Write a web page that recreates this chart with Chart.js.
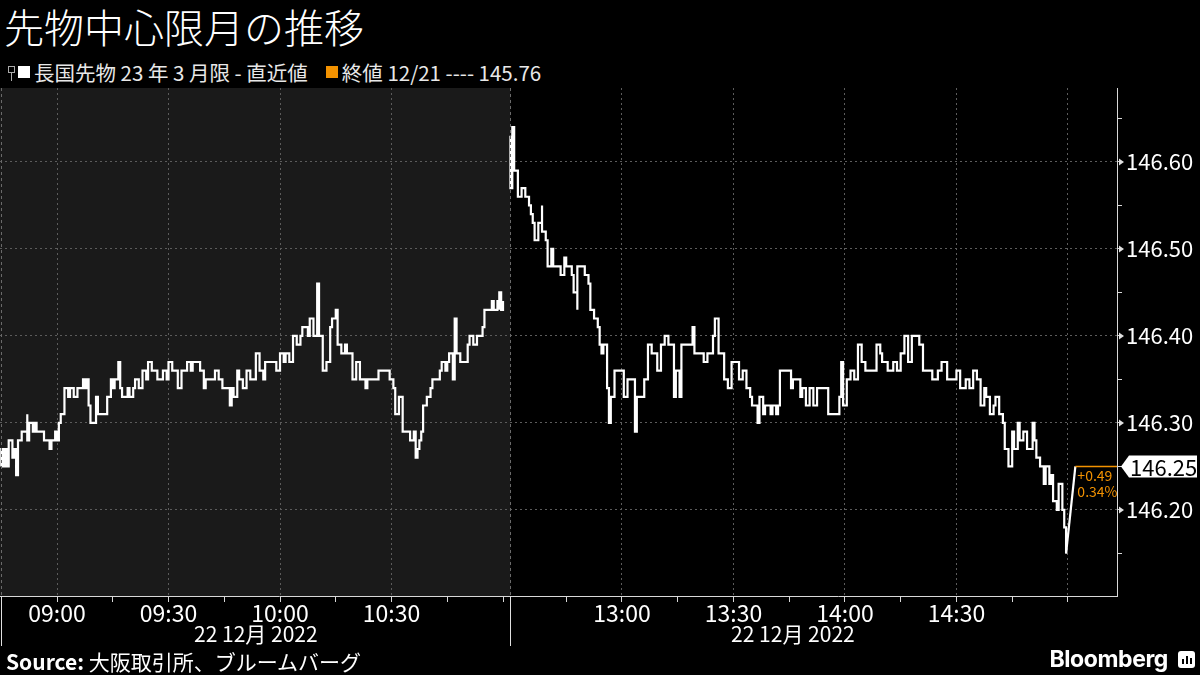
<!DOCTYPE html>
<html>
<head>
<meta charset="utf-8">
<script src="https://cdn.jsdelivr.net/npm/chart.js@4.4.0/dist/chart.umd.min.js"></script>
<style>
  html, body { margin: 0; padding: 0; background: #000; width: 1200px; height: 675px; overflow: hidden; }
  body { font-family: "Noto Sans CJK JP", sans-serif; color: #fff; position: relative; }
  #title { position: absolute; left: 4px; top: 0px; font-size: 40px; line-height: 52px; font-weight: 300; }
  #legend { position: absolute; left: 8px; top: 59px; height: 26px; font-size: 20.5px; color: #e8e8e8; display: flex; align-items: center; white-space: pre; }
  #legend .pin { width: 5px; height: 5px; border: 1px solid #aaa; position: relative; margin-right: 3px; top: -3px; }
  #legend .pin:after { content: ""; position: absolute; left: 2px; top: 6px; width: 1px; height: 8px; background: #aaa; }
  #legend .sq { width: 12px; height: 12px; margin-right: 4px; }
  #c { position: absolute; left: 0; top: 0; }
  #source { position: absolute; left: 6px; top: 647px; font-size: 21px; line-height: 28px; color: #fff; }
  #source b { font-weight: 700; }
  #bbg { position: absolute; right: 5px; top: 645px; display: flex; align-items: center; font-family: Inter, sans-serif; font-weight: 700; font-size: 23px; letter-spacing: -0.4px; color: #fff; }
  #bbg .ico { width: 17px; height: 17px; background: #fff; border-radius: 3px; margin-left: 10px; position: relative; }
  #bbg .ico i { position: absolute; bottom: 4px; width: 2px; background: #000; }
</style>
</head>
<body>
<div id="title">先物中心限月の推移</div>
<div id="legend"><span class="pin"></span><span class="sq" style="background:#fff"></span><span id="lg1"></span><span class="sq" style="background:#f39200;margin-left:18px"></span><span id="lg2"></span></div>
<canvas id="c" width="1200" height="650"></canvas>
<div id="source"><b>Source:</b> 大阪取引所、ブルームバーグ</div>
<div id="bbg">Bloomberg<span class="ico"><i style="left:4px;height:5px"></i><i style="left:8px;height:8px"></i><i style="left:12px;height:6px"></i></span></div>
<script>
// 長国先物 23年3月限, 22 Dec 2022, day session ticks (HH:MM:SS)
var seriesName = "長国先物 23 年 3 月限 - 直近値";
var prevCloseLabel = "終値 12/21";
var prevClose = 145.76;
var sessions = [["08:45", "11:02"], ["12:30", "15:02"]];
var dateLabel = "22 12月 2022";

var amTimes = [
  "08:45:00","08:45:00","08:45:30","08:46:00","08:46:30","08:47:00","08:47:30","08:48:00","08:48:30","08:49:00",
  "08:49:30","08:50:00","08:50:30","08:51:30","08:52:00","08:52:00","08:52:30","08:53:30","08:54:00","08:54:30",
  "08:56:00","08:56:30","08:57:30","08:58:00","08:58:30","08:59:30","09:00:00","09:00:30","09:01:00","09:02:00",
  "09:02:00","09:03:00","09:03:30","09:04:30","09:05:30","09:07:00","09:07:00","09:07:30","09:08:00","09:08:30",
  "09:09:00","09:09:30","09:10:30","09:11:00","09:12:30","09:13:30","09:14:30","09:15:00","09:15:30","09:16:30",
  "09:17:00","09:17:30","09:19:00","09:19:30","09:20:30","09:21:00","09:22:00","09:23:00","09:24:00","09:24:30",
  "09:25:30","09:27:00","09:28:30","09:29:30","09:30:00","09:31:00","09:32:30","09:33:30","09:34:30","09:35:00",
  "09:36:00","09:36:30","09:38:30","09:39:30","09:40:00","09:42:00","09:42:30","09:43:30","09:44:30","09:45:30",
  "09:46:30","09:47:00","09:47:30","09:48:30","09:49:00","09:50:00","09:51:00","09:52:00","09:53:30","09:54:30",
  "09:55:30","09:56:00","09:58:30","09:59:00","10:00:00","10:01:00","10:01:30","10:02:30","10:03:30","10:04:30",
  "10:05:30","10:06:00","10:07:30","10:08:00","10:09:00","10:10:00","10:10:00","10:10:30","10:11:00","10:11:30",
  "10:12:00","10:12:30","10:13:30","10:14:00","10:15:00","10:15:00","10:15:30","10:16:30","10:17:30","10:18:00",
  "10:19:00","10:19:30","10:20:30","10:21:00","10:21:30","10:23:00","10:23:00","10:23:30","10:25:30","10:26:30",
  "10:28:30","10:29:30","10:30:30","10:31:00","10:32:00","10:33:00","10:33:00","10:34:00","10:35:00","10:36:00",
  "10:36:30","10:37:00","10:37:30","10:38:00","10:38:30","10:39:30","10:40:30","10:41:00","10:42:00","10:43:00",
  "10:43:30","10:44:30","10:45:00","10:45:30","10:46:30","10:47:00","10:47:30","10:48:30","10:49:00","10:50:30",
  "10:51:00","10:52:00","10:53:00","10:54:30","10:55:00","10:56:30","10:57:00","10:57:30","10:58:30","10:59:00",
  "10:59:00","10:59:30","11:00:00"
];
var amPrices = [
  146.25,146.27,146.25,146.27,146.25,146.28,146.28,146.26,146.27,146.24,
  146.28,146.28,146.29,146.29,146.31,146.28,146.30,146.29,146.30,146.29,
  146.29,146.28,146.28,146.27,146.28,146.29,146.28,146.30,146.31,146.32,
  146.34,146.33,146.34,146.33,146.34,146.34,146.35,146.34,146.35,146.32,
  146.30,146.30,146.33,146.31,146.31,146.33,146.35,146.34,146.35,146.37,
  146.34,146.33,146.34,146.33,146.34,146.35,146.34,146.36,146.35,146.37,
  146.36,146.35,146.36,146.35,146.37,146.36,146.34,146.36,146.36,146.37,
  146.36,146.37,146.36,146.34,146.35,146.35,146.36,146.35,146.34,146.34,
  146.32,146.34,146.33,146.36,146.35,146.34,146.36,146.35,146.38,146.36,
  146.35,146.37,146.37,146.36,146.38,146.37,146.38,146.37,146.40,146.39,
  146.40,146.41,146.40,146.42,146.40,146.40,146.46,146.40,146.40,146.36,
  146.36,146.37,146.41,146.42,146.42,146.43,146.39,146.38,146.39,146.38,
  146.38,146.35,146.37,146.37,146.35,146.35,146.34,146.35,146.35,146.36,
  146.36,146.35,146.34,146.31,146.33,146.31,146.29,146.29,146.28,146.29,
  146.26,146.27,146.28,146.29,146.32,146.33,146.34,146.35,146.35,146.36,
  146.37,146.36,146.37,146.38,146.35,146.42,146.38,146.37,146.37,146.39,
  146.40,146.39,146.40,146.41,146.43,146.43,146.44,146.43,146.44,146.43,
  146.45,146.43,146.44
];
var pmTimes = [
  "12:30:00","12:30:00","12:30:30","12:30:30","12:31:00","12:31:30","12:32:00","12:33:00","12:34:00","12:35:00",
  "12:35:30","12:36:00","12:36:30","12:37:30","12:38:30","12:38:30","12:39:30","12:40:00","12:40:30","12:41:00",
  "12:41:30","12:43:00","12:43:30","12:44:30","12:45:00","12:46:30","12:47:00","12:48:00","12:48:00","12:49:00",
  "12:50:00","12:51:00","12:51:30","12:52:30","12:53:30","12:54:00","12:54:30","12:55:00","12:55:30","12:56:00",
  "12:56:30","12:57:00","12:58:00","13:00:00","13:00:30","13:01:30","13:01:30","13:03:00","13:03:30","13:04:00",
  "13:05:00","13:06:00","13:07:00","13:08:00","13:09:30","13:10:30","13:11:30","13:12:30","13:13:30","13:14:00",
  "13:14:30","13:15:30","13:16:00","13:18:30","13:19:00","13:19:30","13:21:00","13:22:00","13:23:00","13:23:30",
  "13:24:30","13:25:00","13:26:00","13:27:00","13:27:30","13:28:30","13:29:30","13:31:00","13:31:30","13:32:30",
  "13:33:30","13:34:30","13:35:00","13:36:30","13:37:00","13:38:00","13:38:30","13:40:00","13:40:30","13:41:30",
  "13:42:00","13:42:30","13:45:00","13:45:30","13:46:00","13:47:00","13:48:00","13:48:30","13:49:30","13:50:30",
  "13:51:30","13:52:30","13:54:30","13:55:30","13:57:30","13:58:30","13:59:00","13:59:30","14:00:30","14:01:30",
  "14:02:30","14:03:30","14:04:30","14:05:30","14:07:30","14:08:30","14:09:30","14:10:00","14:11:30","14:13:00",
  "14:14:00","14:15:00","14:16:00","14:17:00","14:18:00","14:19:30","14:20:00","14:21:00","14:23:00","14:23:30",
  "14:25:00","14:26:00","14:27:30","14:29:00","14:30:00","14:31:00","14:32:30","14:33:30","14:34:30","14:35:30",
  "14:36:30","14:37:30","14:38:00","14:39:00","14:40:00","14:40:30","14:41:30","14:42:30","14:43:00","14:44:00",
  "14:44:30","14:45:00","14:45:30","14:46:30","14:47:00","14:48:00","14:49:00","14:50:30","14:51:00","14:51:30",
  "14:52:30","14:53:30","14:54:00","14:55:00","14:55:30","14:56:00","14:57:00","14:57:30","14:58:30","14:59:00",
  "14:59:30","15:02:00"
];
var pmPrices = [
  146.63,146.57,146.62,146.64,146.59,146.59,146.56,146.57,146.56,146.55,
  146.54,146.53,146.51,146.53,146.55,146.52,146.51,146.48,146.48,146.50,
  146.48,146.48,146.47,146.49,146.48,146.47,146.45,146.43,146.48,146.48,
  146.47,146.46,146.43,146.42,146.41,146.39,146.38,146.39,146.39,146.34,
  146.30,146.33,146.36,146.36,146.33,146.33,146.35,146.35,146.29,146.33,
  146.33,146.35,146.39,146.38,146.36,146.39,146.40,146.39,146.39,146.33,
  146.36,146.33,146.39,146.39,146.41,146.38,146.38,146.37,146.38,146.38,
  146.40,146.42,146.38,146.38,146.35,146.34,146.37,146.37,146.35,146.36,
  146.34,146.33,146.32,146.30,146.33,146.31,146.32,146.31,146.32,146.31,
  146.32,146.36,146.36,146.34,146.35,146.35,146.33,146.34,146.32,146.34,
  146.32,146.34,146.34,146.31,146.31,146.33,146.37,146.32,146.35,146.36,
  146.35,146.39,146.37,146.36,146.36,146.39,146.38,146.37,146.36,146.37,
  146.36,146.38,146.40,146.37,146.40,146.40,146.39,146.36,146.36,146.35,
  146.36,146.37,146.35,146.35,146.36,146.34,146.35,146.34,146.36,146.35,
  146.32,146.34,146.33,146.31,146.32,146.33,146.31,146.30,146.27,146.25,
  146.25,146.29,146.27,146.30,146.28,146.29,146.27,146.30,146.28,146.26,
  146.25,146.23,146.25,146.23,146.24,146.21,146.20,146.23,146.20,146.18,
  146.15,146.25
];

var yTickValues = [146.15, 146.20, 146.25, 146.30, 146.35, 146.40, 146.45, 146.50, 146.55, 146.60, 146.65];
var yLabelValues = [146.20, 146.30, 146.40, 146.50, 146.60];
var xTickTimes = ["09:00","09:15","09:30","09:45","10:00","10:15","10:30","10:45","11:00",
                  "12:45","13:00","13:15","13:30","13:45","14:00","14:15","14:30","14:45","15:00"];
var xGridTimes = ["09:00","09:30","10:00","10:30","13:00","13:30","14:00","14:30","15:00"];
var xLabelTimes = ["09:00","09:30","10:00","10:30","13:00","13:30","14:00","14:30"];

function clockMin(t) {
  var p = t.split(':').map(Number);
  return p[0] * 60 + p[1] + (p[2] || 0) / 60;
}
var amStart = clockMin(sessions[0][0]);
var amLength = clockMin(sessions[0][1]) - amStart;
var pmStart = clockMin(sessions[1][0]);
var pmEnd = amLength + clockMin(sessions[1][1]) - pmStart;

// trading minutes, lunch break removed
function sessionMinute(t) {
  var m = clockMin(t);
  return m >= pmStart ? amLength + m - pmStart : m - amStart;
}
function toPoints(times, prices) {
  return times.map(function (t, i) { return { x: sessionMinute(t), y: prices[i] }; });
}

var amData = toPoints(amTimes, amPrices);
var pmAll = toPoints(pmTimes, pmPrices);
var pmData = pmAll.slice(0, -1);          // continuous trading
var closeData = pmAll.slice(-2);          // jump to the closing price
var lastPoint = pmAll[pmAll.length - 1];
var xTicks = xTickTimes.map(sessionMinute);
var xGrid = xGridTimes.map(sessionMinute);
var xLabels = {};
xLabelTimes.forEach(function (t) { xLabels[sessionMinute(t)] = t; });

document.getElementById('lg1').textContent = seriesName;
document.getElementById('lg2').textContent = prevCloseLabel + " ---- " + prevClose.toFixed(2);

var ORANGE = '#f39200';
var FONT = '"Noto Sans CJK JP", sans-serif';
var GRID = '#5c5c5c';

function isMajor(v) {
  return yLabelValues.some(function (l) { return Math.abs(l - v) < 1e-6; });
}

var sessionPlugin = {
  id: 'sessionPlugin',
  beforeDraw: function (chart) {
    var ctx = chart.ctx, a = chart.chartArea, x = chart.scales.x;
    var xb = x.getPixelForValue(amLength);
    ctx.save();
    ctx.fillStyle = '#1a1a1a';
    ctx.fillRect(a.left, a.top, xb - a.left, a.bottom - a.top);
    ctx.restore();
  },
  afterDraw: function (chart) {
    var ctx = chart.ctx, a = chart.chartArea, x = chart.scales.x, y = chart.scales.y;
    ctx.save();
    // session dividers
    [0, amLength].forEach(function (v) {
      var px = Math.round(Math.max(x.getPixelForValue(v), a.left)) + 0.5;
      ctx.strokeStyle = '#6a6a6a';
      ctx.lineWidth = 1;
      ctx.setLineDash([3, 3]);
      ctx.beginPath(); ctx.moveTo(px, a.top); ctx.lineTo(px, a.bottom); ctx.stroke();
      ctx.setLineDash([]);
      ctx.strokeStyle = '#e0e0e0';
      ctx.beginPath(); ctx.moveTo(px, a.bottom); ctx.lineTo(px, a.bottom + 50); ctx.stroke();
    });
    // date labels under each session
    ctx.fillStyle = '#fff';
    ctx.font = '21px ' + FONT;
    ctx.textAlign = 'center';
    ctx.textBaseline = 'middle';
    ctx.fillText(dateLabel, (x.getPixelForValue(0) + x.getPixelForValue(amLength)) / 2, a.bottom + 38);
    ctx.fillText(dateLabel, (x.getPixelForValue(amLength) + x.getPixelForValue(pmEnd)) / 2, a.bottom + 38);
    // arrow markers on the price axis
    ctx.fillStyle = '#e0e0e0';
    yLabelValues.forEach(function (v) {
      var py = y.getPixelForValue(v);
      ctx.beginPath();
      ctx.moveTo(a.right + 2, py - 3.5); ctx.lineTo(a.right + 7, py); ctx.lineTo(a.right + 2, py + 3.5);
      ctx.closePath(); ctx.fill();
    });
    // last price marker
    var lx = x.getPixelForValue(lastPoint.x), ly = y.getPixelForValue(lastPoint.y);
    ctx.strokeStyle = ORANGE;
    ctx.lineWidth = 1.5;
    ctx.beginPath(); ctx.moveTo(lx, ly); ctx.lineTo(a.right, ly); ctx.stroke();
    var diff = lastPoint.y - prevClose;
    ctx.fillStyle = ORANGE;
    ctx.font = '14px ' + FONT;
    ctx.textAlign = 'left';
    ctx.textBaseline = 'top';
    ctx.fillText((diff >= 0 ? '+' : '') + diff.toFixed(2), lx + 2, ly + 2);
    ctx.fillText((diff / prevClose * 100).toFixed(2) + '%', lx + 2, ly + 18);
    ctx.fillStyle = '#fff';
    ctx.beginPath();
    ctx.moveTo(a.right + 4, ly);
    ctx.lineTo(a.right + 12, ly - 11);
    ctx.lineTo(1197, ly - 11);
    ctx.lineTo(1197, ly + 11);
    ctx.lineTo(a.right + 12, ly + 11);
    ctx.closePath(); ctx.fill();
    ctx.fillStyle = '#000';
    ctx.font = '22px ' + FONT;
    ctx.textBaseline = 'middle';
    ctx.fillText(lastPoint.y.toFixed(2), a.right + 13, ly + 1);
    ctx.restore();
  }
};

var lineStyle = { borderColor: '#fff', borderWidth: 2.2, pointRadius: 0, tension: 0, fill: false };

new Chart(document.getElementById('c'), {
  type: 'line',
  data: {
    datasets: [
      Object.assign({ label: seriesName, data: amData, stepped: 'before' }, lineStyle),
      Object.assign({ label: seriesName + ' pm', data: pmData, stepped: 'before' }, lineStyle),
      Object.assign({ label: seriesName + ' close', data: closeData, stepped: false }, lineStyle)
    ]
  },
  options: {
    responsive: false,
    animation: false,
    layout: { padding: { top: 88, left: 0, right: 0, bottom: 0 } },
    plugins: { legend: { display: false }, tooltip: { enabled: false }, title: { display: false } },
    scales: {
      x: {
        type: 'linear',
        min: -0.34,
        max: 300.2,
        afterBuildTicks: function (s) { s.ticks = xTicks.map(function (v) { return { value: v }; }); },
        afterFit: function (s) { s.height = 54; },
        ticks: {
          autoSkip: false, maxRotation: 0, minRotation: 0, padding: -3,
          color: '#fff', font: { family: FONT, size: 23 },
          callback: function (v) { return xLabels[v] || ''; }
        },
        grid: {
          color: function (c) { return c.tick && xGrid.indexOf(c.tick.value) >= 0 ? GRID : 'rgba(0,0,0,0)'; },
          tickColor: '#d8d8d8', tickLength: 6, tickWidth: 1
        },
        border: { display: true, color: '#d8d8d8', width: 1, dash: [2, 3] }
      },
      y: {
        type: 'linear',
        position: 'right',
        min: 146.101,
        max: 146.685,
        afterBuildTicks: function (s) { s.ticks = yTickValues.map(function (v) { return { value: v }; }); },
        afterFit: function (s) { s.width = 83; },
        ticks: {
          padding: 4, color: '#fff', font: { family: FONT, size: 22 },
          callback: function (v) { return isMajor(v) ? v.toFixed(2) : ''; }
        },
        grid: {
          color: function (c) { return c.tick && isMajor(c.tick.value) ? GRID : 'rgba(0,0,0,0)'; },
          tickColor: '#d8d8d8', tickLength: 5, tickWidth: 1
        },
        border: { display: true, color: '#d8d8d8', width: 1, dash: [2, 3] }
      }
    }
  },
  plugins: [sessionPlugin]
});
</script>
</body>
</html>
